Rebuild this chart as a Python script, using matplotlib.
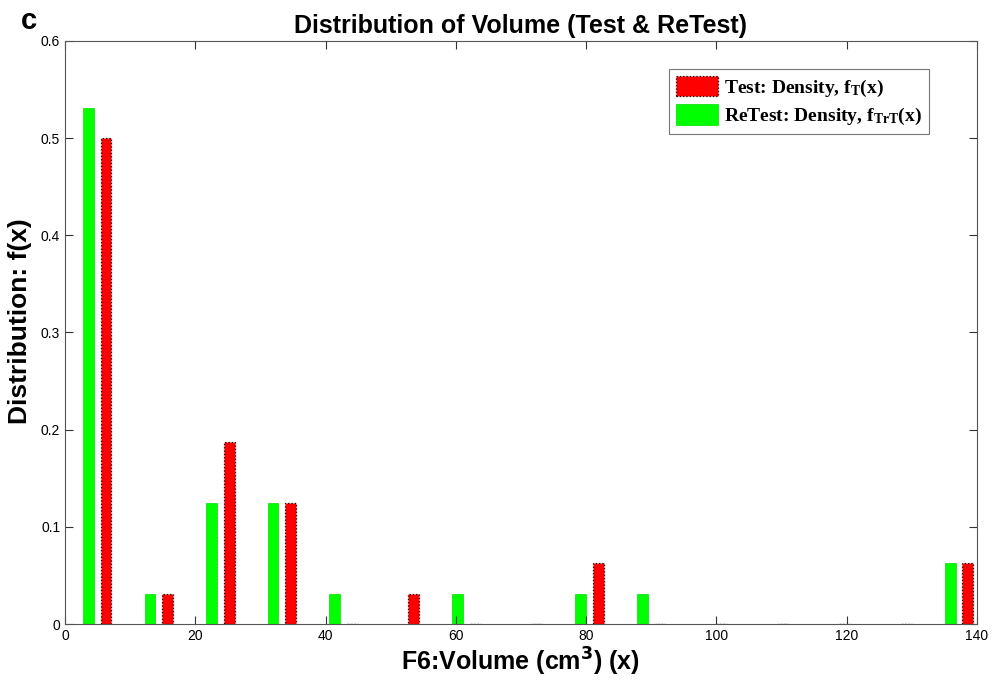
import numpy as np
import matplotlib.pyplot as plt

plt.rcParams["font.family"] = "Liberation Sans"
plt.rcParams["mathtext.fontset"] = "custom"
plt.rcParams["mathtext.rm"] = "Liberation Serif:bold"
plt.rcParams["mathtext.it"] = "Liberation Serif:bold"
plt.rcParams["mathtext.bf"] = "Liberation Serif:bold"

bin_centers = 4.95 + 9.45 * np.arange(15)
test_density = [0.5, 0.03125, 0.1875, 0.125, 0, 0.03125, 0, 0, 0.0625,
                0, 0, 0, 0, 0, 0.0625]
retest_density = [0.53125, 0.03125, 0.125, 0.125, 0.03125, 0, 0.03125, 0,
                  0.03125, 0.03125, 0, 0, 0, 0, 0.0625]

fig = plt.figure(figsize=(10.02, 6.82), dpi=100)
ax = fig.add_axes([0.0649, 0.085, 0.910, 0.855])

w = 1.65
ax.bar(bin_centers - 1.35, retest_density, width=w, color="#00ff00",
       edgecolor="#00dd00", linewidth=0.5, label=r"ReTest: Density, f$_{\mathrm{TrT}}$(x)")
ax.bar(bin_centers + 1.35, test_density, width=w, color="#ff0000",
       edgecolor="black", linestyle=":", linewidth=0.9, label=r"Test: Density, f$_{\mathrm{T}}$(x)")

ax.set_xlim(0, 140)
ax.set_ylim(0, 0.6)
ax.set_xticks(np.arange(0, 141, 20))
ax.set_yticks(np.arange(0, 0.61, 0.1))
ax.set_yticklabels(["0", "0.1", "0.2", "0.3", "0.4", "0.5", "0.6"])
ax.tick_params(direction="in", top=True, right=True, length=6, width=0.8,
               colors="#333333", labelsize=10, labelcolor="black")
for s in ax.spines.values():
    s.set_color("#555555")
    s.set_linewidth(0.8)

ax.set_title("Distribution of Volume (Test & ReTest)", fontsize=18,
             fontweight="bold", pad=6)
ax.set_xlabel(r"F6:Volume (cm$^{\mathbf{3}}$) (x)", fontsize=18, fontweight="bold",
              math_fontfamily="dejavusans", labelpad=2)
ax.set_ylabel("Distribution: f(x)", fontsize=19, fontweight="bold")
ax.yaxis.set_label_coords(-0.036, 0.52)
fig.text(0.021, 0.958, "c", fontsize=21, fontweight="bold")

handles, labels = ax.get_legend_handles_labels()
leg = ax.legend(handles[::-1], labels[::-1], loc="upper right",
                bbox_to_anchor=(0.947, 0.952), fancybox=False, edgecolor="#555555",
                prop={"family": "Liberation Serif", "weight": "bold", "size": 14},
                handlelength=2.15, handleheight=1.25, borderpad=0.35, labelspacing=0.3,
                handletextpad=0.3, borderaxespad=0)
leg.get_frame().set_linewidth(0.8)

fig.savefig("out.png", dpi=100)
